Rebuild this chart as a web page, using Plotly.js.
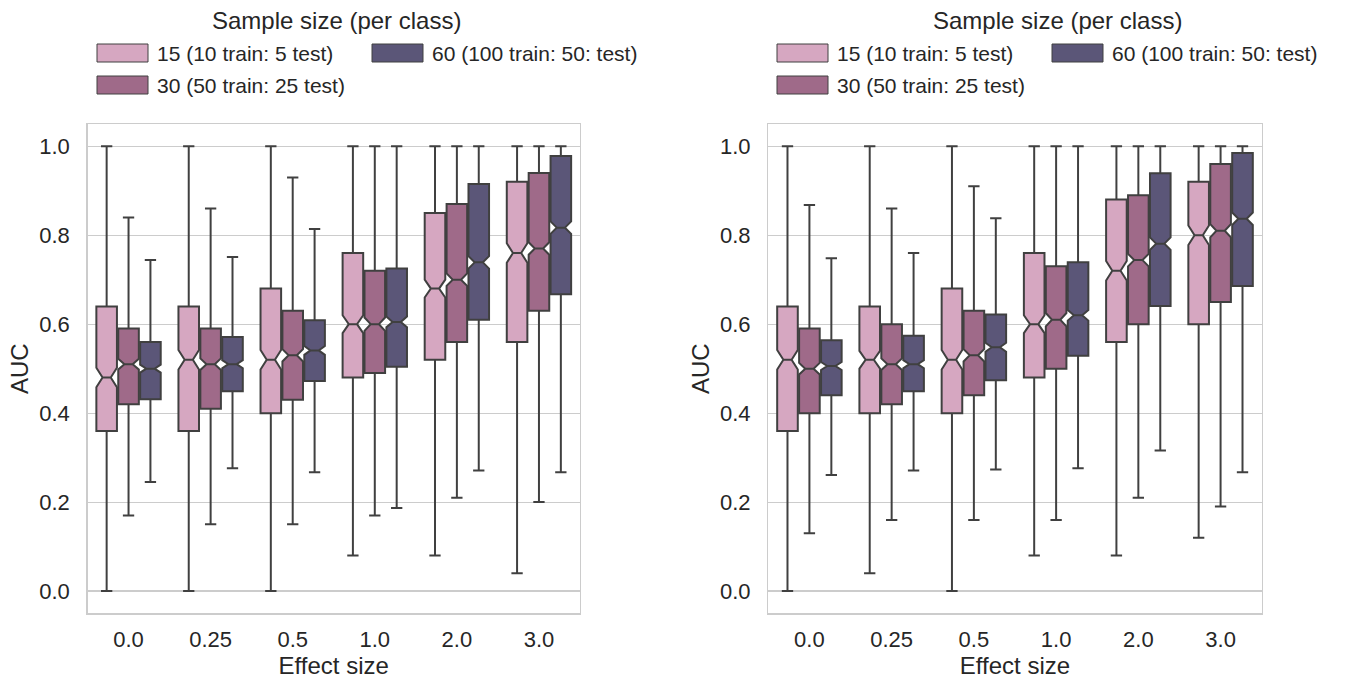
<!DOCTYPE html>
<html>
<head>
<meta charset="utf-8">
<script src="https://cdn.plot.ly/plotly-3.0.1.min.js"></script>
<style>html,body{margin:0;padding:0;background:#fff;}#chart{width:1351px;height:683px;}</style>
</head>
<body>
<div id="chart"></div>
<script>
// ---- data ----
const categories = ['0.0', '0.25', '0.5', '1.0', '2.0', '3.0'];
const groupNames = ['15 (10 train: 5 test)', '30 (50 train: 25 test)', '60 (100 train: 50: test)'];
const legendTitle = 'Sample size (per class)';

// Left panel
const L_lo15  = [0.00, 0.00, 0.00, 0.08, 0.08, 0.04];
const L_q1_15 = [0.36, 0.36, 0.40, 0.48, 0.52, 0.56];
const L_med15 = [0.48, 0.52, 0.52, 0.60, 0.68, 0.76];
const L_q3_15 = [0.64, 0.64, 0.68, 0.76, 0.85, 0.92];
const L_hi15  = [1.00, 1.00, 1.00, 1.00, 1.00, 1.00];
const L_n15   = [0.022, 0.022, 0.022, 0.020, 0.020, 0.022];

const L_lo30  = [0.17, 0.15, 0.15, 0.17, 0.21, 0.20];
const L_q1_30 = [0.42, 0.41, 0.43, 0.49, 0.56, 0.63];
const L_med30 = [0.51, 0.51, 0.53, 0.60, 0.70, 0.77];
const L_q3_30 = [0.59, 0.59, 0.63, 0.72, 0.87, 0.94];
const L_hi30  = [0.84, 0.86, 0.93, 1.00, 1.00, 1.00];
const L_n30   = [0.012, 0.013, 0.014, 0.015, 0.014, 0.014];

const L_lo60  = [0.245, 0.276, 0.267, 0.187, 0.271, 0.267];
const L_q1_60 = [0.431, 0.449, 0.472, 0.504, 0.610, 0.667];
const L_med60 = [0.500, 0.510, 0.541, 0.605, 0.739, 0.817];
const L_q3_60 = [0.560, 0.571, 0.609, 0.725, 0.915, 0.978];
const L_hi60  = [0.744, 0.751, 0.814, 1.000, 1.000, 1.000];
const L_n60   = [0.009, 0.009, 0.010, 0.012, 0.014, 0.014];

// Right panel
const R_lo15  = [0.00, 0.04, 0.00, 0.08, 0.08, 0.12];
const R_q1_15 = [0.36, 0.40, 0.40, 0.48, 0.56, 0.60];
const R_med15 = [0.52, 0.52, 0.52, 0.60, 0.72, 0.80];
const R_q3_15 = [0.64, 0.64, 0.68, 0.76, 0.88, 0.92];
const R_hi15  = [1.00, 1.00, 1.00, 1.00, 1.00, 1.00];
const R_n15   = [0.022, 0.020, 0.022, 0.020, 0.022, 0.022];

const R_lo30  = [0.13, 0.16, 0.16, 0.16, 0.21, 0.19];
const R_q1_30 = [0.40, 0.42, 0.44, 0.50, 0.60, 0.65];
const R_med30 = [0.50, 0.51, 0.53, 0.61, 0.744, 0.81];
const R_q3_30 = [0.59, 0.60, 0.63, 0.73, 0.89, 0.96];
const R_hi30  = [0.868, 0.86, 0.91, 1.00, 1.00, 1.00];
const R_n30   = [0.013, 0.013, 0.014, 0.015, 0.014, 0.015];

const R_lo60  = [0.261, 0.271, 0.273, 0.276, 0.316, 0.267];
const R_q1_60 = [0.440, 0.449, 0.474, 0.529, 0.641, 0.686];
const R_med60 = [0.506, 0.510, 0.548, 0.620, 0.781, 0.837];
const R_q3_60 = [0.564, 0.574, 0.622, 0.739, 0.939, 0.985];
const R_hi60  = [0.748, 0.760, 0.838, 1.000, 1.000, 1.000];
const R_n60   = [0.009, 0.009, 0.010, 0.012, 0.014, 0.014];

const yTicks = [0.0, 0.2, 0.4, 0.6, 0.8, 1.0];
const yTickText = ['0.0', '0.2', '0.4', '0.6', '0.8', '1.0'];

// ---- styles ----
const colors = ['#d6a7c1', '#9f6a89', '#5b5678'];
const edge = '#404040';
const FONT = '"Liberation Sans", Arial, sans-serif';
const textColor = '#262626';

function boxTrace(i, xa, ya, lo, q1, med, q3, hi, ns) {
  return {
    type: 'box', name: groupNames[i], x: categories,
    lowerfence: lo, q1: q1, median: med, q3: q3, upperfence: hi, notchspan: ns,
    notched: true, notchwidth: 0.3, boxpoints: false, whiskerwidth: 0.55,
    fillcolor: colors[i], line: {color: edge, width: 2},
    xaxis: xa, yaxis: ya, showlegend: false, hoverinfo: 'skip', offsetgroup: String(i)
  };
}

const data = [
  boxTrace(0, 'x', 'y', L_lo15, L_q1_15, L_med15, L_q3_15, L_hi15, L_n15),
  boxTrace(1, 'x', 'y', L_lo30, L_q1_30, L_med30, L_q3_30, L_hi30, L_n30),
  boxTrace(2, 'x', 'y', L_lo60, L_q1_60, L_med60, L_q3_60, L_hi60, L_n60),
  boxTrace(0, 'x2', 'y2', R_lo15, R_q1_15, R_med15, R_q3_15, R_hi15, R_n15),
  boxTrace(1, 'x2', 'y2', R_lo30, R_q1_30, R_med30, R_q3_30, R_hi30, R_n30),
  boxTrace(2, 'x2', 'y2', R_lo60, R_q1_60, R_med60, R_q3_60, R_hi60, R_n60)
];

const W = 1351, H = 683;
const px = v => v / W;
const py = v => 1 - v / H;

function xaxisDef(domain) {
  return {
    domain: domain, type: 'category', range: [-0.5, 5.5],
    showgrid: false, zeroline: false,
    showline: true, mirror: true, linecolor: '#cccccc', linewidth: 1.3,
    ticks: 'outside', ticklen: 6, tickcolor: 'rgba(0,0,0,0)',
    tickfont: {family: FONT, size: 22, color: textColor},
    title: {text: 'Effect size', font: {family: FONT, size: 24, color: textColor}, standoff: 0}
  };
}
function yaxisDef(domain, anchor) {
  return {
    domain: domain, anchor: anchor, range: [-0.05, 1.05],
    tickvals: yTicks, ticktext: yTickText,
    showgrid: true, gridcolor: '#cccccc', gridwidth: 1.2, zeroline: false,
    showline: true, mirror: true, linecolor: '#cccccc', linewidth: 1.3,
    ticks: 'outside', ticklen: 12, tickcolor: 'rgba(0,0,0,0)',
    tickfont: {family: FONT, size: 22, color: textColor},
    title: {text: 'AUC', font: {family: FONT, size: 24, color: textColor}, standoff: 3}
  };
}

const yDom = [1 - 613.3 / H, 1 - 124 / H];
const layout = {
  width: W, height: H,
  margin: {l: 0, r: 0, t: 0, b: 0},
  paper_bgcolor: '#ffffff', plot_bgcolor: '#ffffff',
  showlegend: false,
  boxmode: 'group', boxgap: 0.2, boxgroupgap: 0.06,
  font: {family: FONT, color: textColor},
  xaxis: Object.assign(xaxisDef([px(87.5), px(580)]), {anchor: 'y'}),
  yaxis: yaxisDef(yDom, 'x'),
  xaxis2: Object.assign(xaxisDef([px(768.3), px(1261.7)]), {anchor: 'y2'}),
  yaxis2: yaxisDef(yDom, 'x2'),
  shapes: [], annotations: []
};

// manual legends (matplotlib-like, column-major)
function addLegend(offset, titleX) {
  layout.annotations.push({
    xref: 'paper', yref: 'paper', x: px(titleX + offset), y: py(20),
    xanchor: 'center', yanchor: 'middle', showarrow: false,
    text: legendTitle, font: {family: FONT, size: 24, color: textColor}
  });
  const slots = [[97, 53], [97, 85], [372, 53]];
  for (let i = 0; i < 3; i++) {
    const sx = slots[i][0] + offset, sy = slots[i][1];
    layout.shapes.push({
      type: 'rect', xref: 'paper', yref: 'paper',
      x0: px(sx), x1: px(sx + 51), y0: py(sy + 9), y1: py(sy - 9),
      fillcolor: colors[i], line: {color: edge, width: 1}
    });
    layout.annotations.push({
      xref: 'paper', yref: 'paper', x: px(sx + 58), y: py(sy),
      xanchor: 'left', yanchor: 'middle', showarrow: false,
      text: groupNames[i], font: {family: FONT, size: 21, color: textColor}
    });
  }
}
addLegend(0, 336);
addLegend(680, 377);

Plotly.newPlot('chart', data, layout, {displayModeBar: false, staticPlot: true});
</script>
</body>
</html>
